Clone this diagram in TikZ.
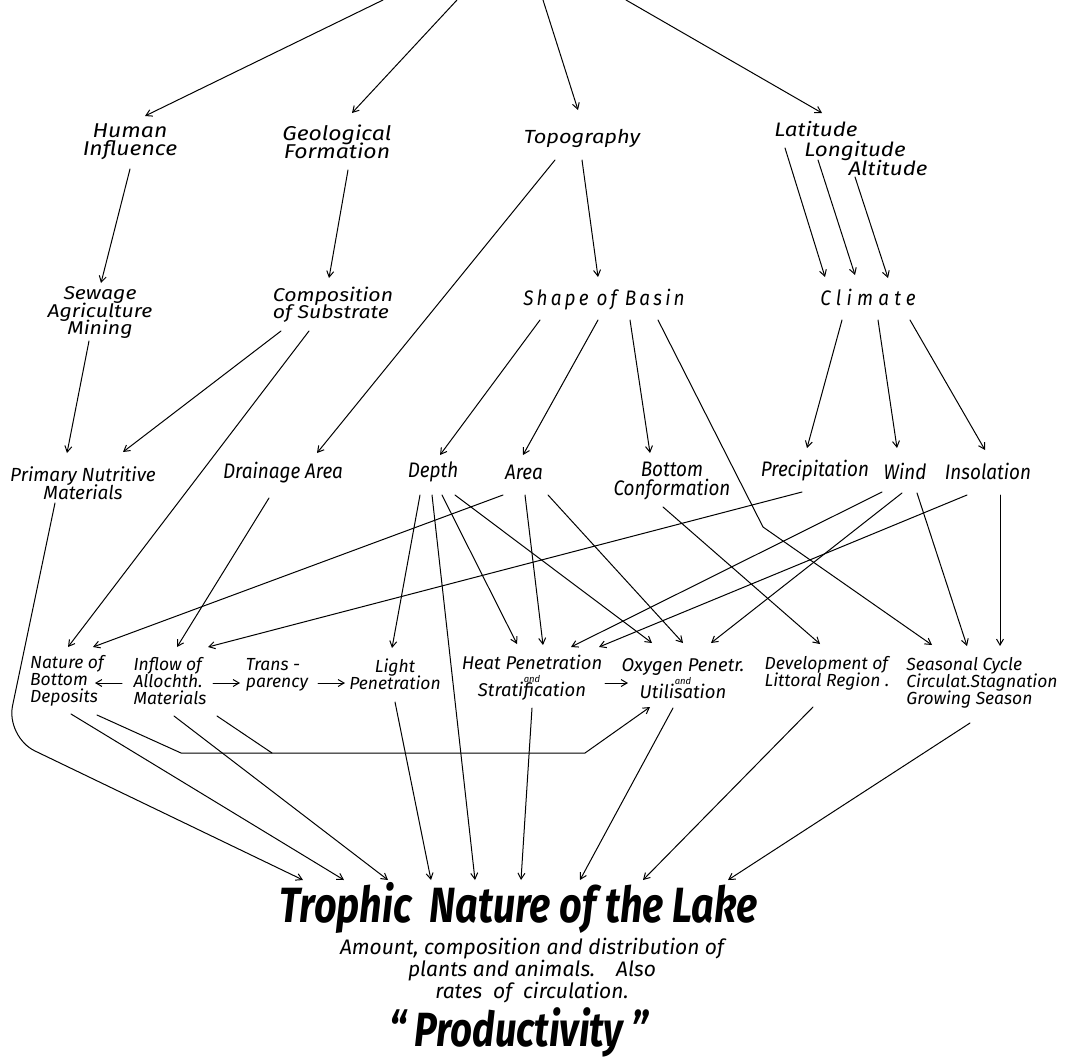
\documentclass[tikz,border=0pt]{standalone}
\usepackage{fontspec}
\newfontfamily\handf{Fira Sans}[FakeStretch=0.9]
\newfontfamily\hando{Fira Sans}[FakeStretch=1.0]
\newfontfamily\handx{Fira Sans}[FakeStretch=1.15]
\newfontfamily\titlef{Fira Sans}[FakeStretch=0.8]
\usetikzlibrary{arrows.meta}
\newcommand\fA{\handf\itshape\fontsize{21}{17}\selectfont\lineskiplimit=-50pt}
\newcommand\fW{\handx\itshape\fontsize{20}{18}\selectfont\lineskiplimit=-50pt}
\newcommand\fM{\handx\itshape\fontsize{18.5}{17.5}\selectfont\lineskiplimit=-50pt}
\newcommand\fP{\hando\itshape\fontsize{19}{18}\selectfont\lineskiplimit=-50pt}
\newcommand\fB{\hando\itshape\fontsize{17.5}{17}\selectfont\lineskiplimit=-50pt}
\newcommand\fH{\hando\itshape\fontsize{18.5}{16.5}\selectfont\lineskiplimit=-50pt}
\newcommand\fT{\titlef\bfseries\itshape\fontsize{49.5}{50}\selectfont}
\newcommand\fD{\hando\itshape\fontsize{21}{22}\selectfont\lineskiplimit=-50pt}
\newcommand\fS{\fontsize{9.5}{9.5}\selectfont}
\tikzset{
  lab/.style={inner sep=0pt, align=center, font=\fA},
  labW/.style={inner sep=0pt, align=center, font=\fW},
  labB/.style={inner sep=0pt, align=center, font=\fB},
  labL/.style={inner sep=0pt, align=left, font=\fB},
  wire/.style={line width=1pt, line cap=round, line join=round},
  arr/.style={wire, -{Straight Barb[length=6pt,width=7pt,line width=1pt]}},
}
\begin{document}
\begin{tikzpicture}[x=1pt,y=-1pt]
\path[fill=white,use as bounding box] (0,0) rectangle (1067,1057);
% top free ends
\coordinate (t1) at (383,0);
\coordinate (t2) at (457,0);
\coordinate (t3) at (543,0);
\coordinate (t4) at (626,0);
% level 1
\node[labW] (hum) at (130,142) {Human\\Influence};
\node[labW] (geo) at (337,142) {Geological\\Formation};
\node[labW, font={\handx\itshape\fontsize{19}{17}\selectfont}] (topo) at (582,138) {Topography};
\node[labW, font={\handx\itshape\fontsize{19.5}{17}\selectfont}] (lat) at (816,129) {Latitude};
\node[labW, font={\handx\itshape\fontsize{19.5}{17}\selectfont}] (lon) at (855,151) {Longitude};
\node[labW, font={\handx\itshape\fontsize{19.5}{17}\selectfont}] (alt) at (888,168) {Altitude};
% level 2
\node[labW, font=\fM] (sew) at (100,313) {Sewage\\Agriculture\\Mining};
\node[labW, align=left, font=\fM] (comp) at (333,305) {Composition\\of Substrate};
\node[lab, font={\fA\addfontfeature{LetterSpace=15}}] (shape) at (604,300) {Shape of Basin};
\node[lab, font={\fA\addfontfeature{LetterSpace=25}}] (clim) at (868,297) {Climate};
% level 3
\node[lab, font=\fP] (prim) at (83,483) {Primary Nutritive\\Materials};
\node[lab] (drain) at (283,473) {Drainage Area};
\node[lab] (depth) at (433,472) {Depth};
\node[lab] (area) at (524,472) {Area};
\node[lab, font={\handf\itshape\fontsize{21}{19}\selectfont\lineskiplimit=-50pt}] (botc) at (672,481) {Bottom\\Conformation};
\node[lab] (prec) at (815,471) {Precipitation};
\node[lab] (wind) at (905,471) {Wind};
\node[lab] (insol) at (988,471) {Insolation};
% level 4
\node[labL] (nat) at (67,681) {Nature of\\Bottom\\Deposits};
\node[labL] (infl) at (170,681) {Inflow of\\Allochth.\\Materials};
\node[labL] (trans) at (277,675) {Trans -\\parency};
\node[labB] (light) at (395,674) {Light\\Penetration};
\node[labB, font=\fH] (heat) at (532,678) {Heat Penetration\\[-4pt]{\fS and}\\[-2pt]Stratification};
\node[labB, font=\fH] (oxy) at (683,679) {Oxygen Penetr.\\[-4pt]{\fS and}\\[-2pt]Utilisation};
\node[labL] (dev) at (827,673) {Development of\\Littoral Region .};
\node[labL] (seas) at (982,683) {Seasonal Cycle\\Circulat.Stagnation\\Growing Season};
% bottom
\node[inner sep=0pt, font=\fT] (troph) at (519,908) {Trophic\ \ Nature of the Lake};
\node[inner sep=0pt, align=center, font=\fD] (desc) at (532,971) {Amount, composition and distribution of\\plants and animals.\quad Also\\rates\ \ of\ \ circulation.};
\node[inner sep=0pt, font={\titlef\bfseries\itshape\fontsize{48}{50}\selectfont}] (prod) at (519,1032) {“\,Productivity\,”};
% top arrows
\draw[arr] (t1) -- ([shift={(15,-26)}]hum.center);
\draw[arr] (t2) -- ([shift={(15,-29)}]geo.center);
\draw[arr] (t3) -- ([shift={(-4,-28)}]topo.center);
\draw[arr] (t4) -- ([shift={(6,-16)}]lat.center);
% level 1 -> 2
\draw[arr] ([shift={(0,27)}]hum.center) -- ([shift={(1,-30)}]sew.center);
\draw[arr] ([shift={(11,28)}]geo.center) -- ([shift={(-4,-27)}]comp.center);
\draw[arr] ([shift={(0,22)}]topo.center) -- ([shift={(-6,-23)}]shape.center);
\draw[arr] ([shift={(-27,22)}]topo.center) -- ([shift={(34,-20)}]drain.center);
\draw[arr] ([shift={(-31,19)}]lat.center) -- ([shift={(-43,-20)}]clim.center);
\draw[arr] ([shift={(-37,9)}]lon.center) -- ([shift={(-13,-22)}]clim.center);
\draw[arr] ([shift={(-33,9)}]alt.center) -- ([shift={(20,-19)}]clim.center);
% level 2 -> 3
\draw[arr] ([shift={(-11,28)}]sew.center) -- ([shift={(-16,-30)}]prim.center);
\draw[arr] ([shift={(-52,26)}]comp.center) -- ([shift={(40,-31)}]prim.center);
\draw[arr] ([shift={(-24,26)}]comp.center) -- ([shift={(1,-34)}]nat.center);
\draw[arr] ([shift={(-64,20)}]shape.center) -- ([shift={(7,-17)}]depth.center);
\draw[arr] ([shift={(-6,20)}]shape.center) -- ([shift={(-1,-17)}]area.center);
\draw[arr] ([shift={(26,20)}]shape.center) -- ([shift={(-22,-28)}]botc.center);
\coordinate (sb) at (763,527);
\draw[arr] ([shift={(54,20)}]shape.center) -- (sb) -- ([shift={(-50,-38)}]seas.center);
\draw[arr] ([shift={(-26,23)}]clim.center) -- ([shift={(-8,-23)}]prec.center);
\draw[arr] ([shift={(10,23)}]clim.center) -- ([shift={(-8,-23)}]wind.center);
\draw[arr] ([shift={(42,23)}]clim.center) -- ([shift={(-3,-21)}]insol.center);
% level 3 -> 4
\coordinate (pc) at (6,737);
\draw[arr, rounded corners=32pt] ([shift={(-28,20)}]prim.center) -- (pc) -- ([shift={(-216,-28)}]troph.center);
\draw[arr] ([shift={(-14,25)}]drain.center) -- ([shift={(7,-34)}]infl.center);
\draw[arr] ([shift={(-21,23)}]area.center) -- ([shift={(26,-34)}]nat.center);
\draw[arr] ([shift={(-13,21)}]prec.center) -- ([shift={(38,-34)}]infl.center);
\draw[arr] ([shift={(-13,23)}]depth.center) -- ([shift={(-3,-26)}]light.center);
\draw[arr] ([shift={(-1,23)}]depth.center) -- ([shift={(-44,-28)}]troph.center);
\draw[arr] ([shift={(9,23)}]depth.center) -- ([shift={(-15,-34)}]heat.center);
\draw[arr] ([shift={(22,23)}]depth.center) -- ([shift={(-31,-36)}]oxy.center);
\draw[arr] ([shift={(1,23)}]area.center) -- ([shift={(11,-33)}]heat.center);
\draw[arr] ([shift={(24,23)}]area.center) -- ([shift={(0,-36)}]oxy.center);
\draw[arr] ([shift={(-9,26)}]botc.center) -- ([shift={(-7,-29)}]dev.center);
\draw[arr] ([shift={(-23,21)}]wind.center) -- ([shift={(39,-31)}]heat.center);
\draw[arr] ([shift={(-3,22)}]wind.center) -- ([shift={(28,-36)}]oxy.center);
\draw[arr] ([shift={(12,22)}]wind.center) -- ([shift={(-15,-37)}]seas.center);
\draw[arr] ([shift={(-21,24)}]insol.center) -- ([shift={(67,-31)}]heat.center);
\draw[arr] ([shift={(12,24)}]insol.center) -- ([shift={(18,-37)}]seas.center);
% horizontal arrows in level 4
\draw[arr] ([shift={(-48,2)}]infl.center) -- ([shift={(28,2)}]nat.center);
\draw[arr] ([shift={(43,2)}]infl.center) -- ([shift={(-37,8)}]trans.center);
\draw[arr] ([shift={(41,8)}]trans.center) -- ([shift={(-50,9)}]light.center);
\draw[arr] ([shift={(73,5)}]heat.center) -- ([shift={(-55,4)}]oxy.center);
% level 4 -> bottom
\coordinate (jl) at (181,753);
\coordinate (jm) at (272,753);
\coordinate (jr) at (585,753);
\draw[arr] ([shift={(30,34)}]nat.center) -- (jl) -- (jr) -- ([shift={(-33,28)}]oxy.center);
\draw[wire] ([shift={(47,35)}]infl.center) -- (jm);
\draw[arr] ([shift={(4,33)}]nat.center) -- ([shift={(-175,-28)}]troph.center);
\draw[arr] ([shift={(4,35)}]infl.center) -- ([shift={(-131,-28)}]troph.center);
\draw[arr] ([shift={(0,28)}]light.center) -- ([shift={(-88,-28)}]troph.center);
\draw[arr] ([shift={(0,30)}]heat.center) -- ([shift={(2,-28)}]troph.center);
\draw[arr] ([shift={(-10,29)}]oxy.center) -- ([shift={(61,-28)}]troph.center);
\draw[arr] ([shift={(-14,34)}]dev.center) -- ([shift={(124,-28)}]troph.center);
\draw[arr] ([shift={(-12,40)}]seas.center) -- ([shift={(209,-28)}]troph.center);
\end{tikzpicture}
\end{document}
